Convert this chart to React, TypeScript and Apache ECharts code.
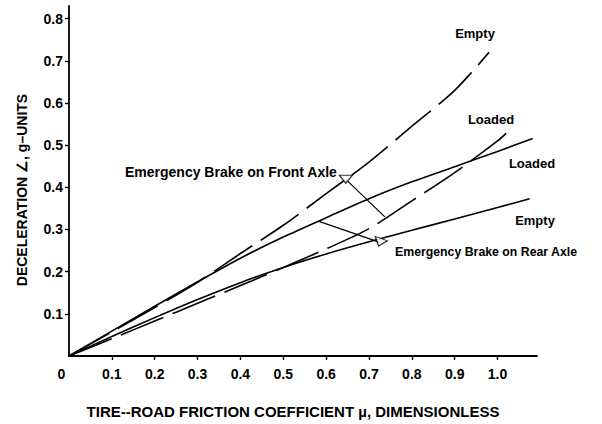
import React, { useEffect, useRef } from "react";
import * as echarts from "echarts";

// Friction coefficient tick positions and deceleration tick positions
const muTicks = [0, 0.1, 0.2, 0.3, 0.4, 0.5, 0.6, 0.7, 0.8, 0.9, 1.0];
const decelTicks = [0.1, 0.2, 0.3, 0.4, 0.5, 0.6, 0.7, 0.8];

// Emergency brake on front axle (dashed curves)
const frontEmptyMu = [0, 0.1, 0.2, 0.3, 0.4, 0.5, 0.6, 0.7, 0.8, 0.9, 0.98];
const frontEmptyDecel = [0, 0.057, 0.115, 0.175, 0.243, 0.31, 0.385, 0.46, 0.545, 0.63, 0.72];
const frontLoadedMu = [0, 0.1, 0.2, 0.3, 0.4, 0.5, 0.6, 0.7, 0.8, 0.9, 1.0, 1.02];
const frontLoadedDecel = [0, 0.041, 0.083, 0.125, 0.167, 0.21, 0.254, 0.302, 0.368, 0.435, 0.51, 0.528];

// Emergency brake on rear axle (solid curves)
const rearLoadedMu = [0, 0.1, 0.2, 0.3, 0.4, 0.5, 0.6, 0.7, 0.8, 0.9, 1.0, 1.082];
const rearLoadedDecel = [0, 0.059, 0.118, 0.176, 0.232, 0.282, 0.328, 0.373, 0.413, 0.449, 0.485, 0.516];
const rearEmptyMu = [0, 0.1, 0.2, 0.3, 0.4, 0.5, 0.6, 0.7, 0.8, 0.9, 1.0, 1.075];
const rearEmptyDecel = [0, 0.046, 0.091, 0.134, 0.174, 0.21, 0.242, 0.271, 0.298, 0.325, 0.352, 0.373];

// Leader lines joining each annotation to its pair of curves
const frontLeaderMu = [0.646, 0.737];
const frontLeaderDecel = [0.419, 0.33];
const rearLeaderMu = [0.5815, 0.7255];
const rearLeaderDecel = [0.32, 0.2696];

const FONT = '"Liberation Sans", Arial, Helvetica, sans-serif';

const zip = (xs: number[], ys: number[]) => xs.map((x, i) => [x, ys[i]]);

export default function App() {
  const ref = useRef<HTMLDivElement>(null);

  useEffect(() => {
    if (!ref.current) return;
    const chart = echarts.init(ref.current, undefined, { renderer: "svg" });

    const curve = (name: string, data: number[][], dashed: boolean) => ({
      name,
      type: "line",
      data,
      smooth: 0.3,
      showSymbol: false,
      symbol: "none",
      lineStyle: {
        color: "#000",
        width: 1.6,
        type: dashed ? [46, 10] : "solid",
      },
      z: 3,
    });

    const leader = (name: string, data: number[][]) => ({
      name,
      type: "line",
      data,
      showSymbol: false,
      symbol: "none",
      lineStyle: { color: "#000", width: 1.2 },
      z: 4,
    });

    const label = (text: string, x: number, y: number, align: string, size = 13) => ({
      type: "text",
      x,
      y,
      style: {
        text,
        fill: "#000",
        font: `bold ${size}px ${FONT}`,
        align,
        verticalAlign: "middle",
      },
    });

    chart.setOption({
      animation: false,
      backgroundColor: "#fff",
      grid: { left: 69, right: 65, top: 6, bottom: 68, containLabel: false },
      xAxis: {
        type: "value",
        min: 0,
        max: 1.092,
        name: "TIRE--ROAD FRICTION COEFFICIENT \u00b5, DIMENSIONLESS",
        nameLocation: "middle",
        nameGap: 48,
        nameTextStyle: {
          color: "#000",
          fontFamily: FONT,
          fontWeight: "bold",
          fontSize: 15,
          padding: [0, 20, 0, 0],
        },
        splitLine: { show: false },
        axisLine: { lineStyle: { color: "#000", width: 1.8 } },
        axisTick: {
          show: true,
          customValues: muTicks.slice(1),
          length: 4,
          lineStyle: { color: "#000", width: 1.4 },
        },
        axisLabel: {
          customValues: muTicks,
          margin: 11,
          color: "#000",
          fontFamily: FONT,
          fontWeight: "bold",
          fontSize: 14,
          formatter: (v: number) => (v === 0 ? "{z|0}" : v.toFixed(1)),
          rich: {
            z: {
              color: "#000",
              fontFamily: FONT,
              fontWeight: "bold",
              fontSize: 14,
              padding: [0, 15, 0, 0],
            },
          },
        },
      },
      yAxis: {
        type: "value",
        min: 0,
        max: 0.83,
        name: "DECELERATION \u2220, g\u2013UNITS",
        nameLocation: "middle",
        nameGap: 40,
        nameTextStyle: {
          color: "#000",
          fontFamily: FONT,
          fontWeight: "bold",
          fontSize: 14,
          padding: [0, 18, 0, 0],
        },
        splitLine: { show: false },
        axisLine: { lineStyle: { color: "#000", width: 1.8 } },
        axisTick: {
          show: true,
          customValues: decelTicks,
          length: 4,
          lineStyle: { color: "#000", width: 1.4 },
        },
        axisLabel: {
          customValues: decelTicks,
          margin: 6,
          color: "#000",
          fontFamily: FONT,
          fontWeight: "bold",
          fontSize: 14,
          formatter: (v: number) => v.toFixed(1),
        },
      },
      series: [
        curve("Front axle, empty", zip(frontEmptyMu, frontEmptyDecel), true),
        curve("Front axle, loaded", zip(frontLoadedMu, frontLoadedDecel), true),
        curve("Rear axle, loaded", zip(rearLoadedMu, rearLoadedDecel), false),
        curve("Rear axle, empty", zip(rearEmptyMu, rearEmptyDecel), false),
        leader("Front leader", zip(frontLeaderMu, frontLeaderDecel)),
        leader("Rear leader", zip(rearLeaderMu, rearLeaderDecel)),
        {
          name: "Leader heads",
          type: "scatter",
          data: [
            { value: [frontLeaderMu[0], frontLeaderDecel[0]], symbolRotate: 180 },
            { value: [rearLeaderMu[1], rearLeaderDecel[1]], symbolRotate: 160 },
          ],
          symbol: "triangle",
          symbolSize: [13, 8],
          itemStyle: { color: "#fff", borderColor: "#000", borderWidth: 1.2 },
          z: 5,
        },
      ],
      graphic: [
        label("Empty", 475, 33, "center"),
        label("Loaded", 491, 119, "center"),
        label("Loaded", 532, 163, "center"),
        label("Empty", 535, 220, "center"),
        label("Emergency Brake on Front Axle", 125, 172, "left", 14),
        label("Emergency Brake on Rear Axle", 395, 252, "left", 12.3),
      ],
    });

    return () => chart.dispose();
  }, []);

  return (
    <div
      ref={ref}
      style={{ position: "fixed", left: 0, top: 0, width: 602, height: 424, background: "#fff" }}
    />
  );
}
